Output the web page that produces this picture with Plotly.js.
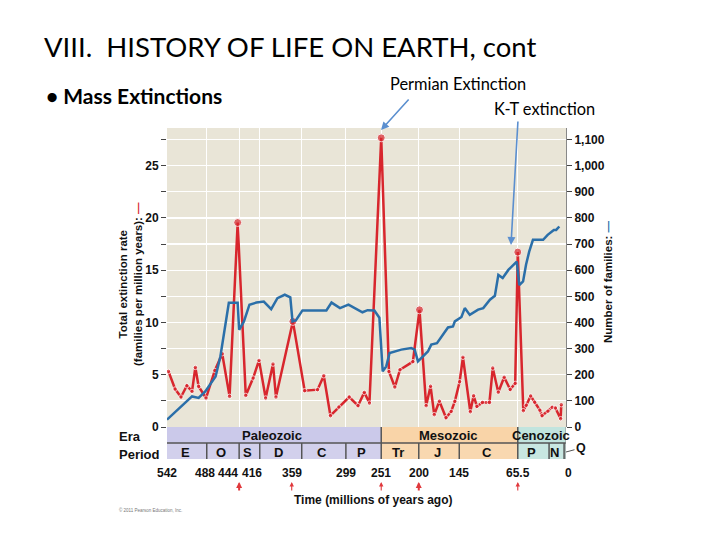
<!DOCTYPE html>
<html><head><meta charset="utf-8">
<script src="https://cdn.plot.ly/plotly-3.0.1.min.js"></script>
<style>html,body{margin:0;padding:0;background:#fff}#chart{width:720px;height:540px}</style>
</head><body><div id="chart"></div>
<script>
// Total extinction rate (families per million years)
const extinctionAge = [540,531,523,515,508,503.5,499,489,477,467,457,446,435,425,417,408,398,394,371,355,337.5,329,320,308.5,294.5,282.5,274,267,251,240.5,232.5,225.5,208,199,190,184,179,172,163,156,151,144.5,140,130,125.5,121,113.5,104,99.5,92,84,75.8,69,65.5,58,54,48,42.5,35.5,32.5,24.5,18.8,14.4,7.3,6.4];
const extinctionRate = [5.32,3.63,2.87,3.95,3.40,5.70,3.88,2.77,5.41,7.01,2.93,19.56,3.02,4.68,6.37,2.77,6.02,2.87,10.1,3.47,3.57,4.90,1.08,1.91,2.87,2.04,3.31,2.29,27.66,5.3,3.82,5.48,6.25,11.21,2.04,3.90,1.18,2.47,0.89,1.49,2.45,4.33,6.67,1.46,2.99,1.97,2.35,2.35,5.64,3.33,4.76,3.59,4.17,16.73,1.56,2.08,2.97,2.37,1.61,1.08,1.51,1.89,1.82,0.79,2.13];
// Number of families
const familiesAge = [542,508,499,490,476,469.5,458,446,444,437.5,430,420.5,410.5,400.5,392,382,374.5,371.5,367,358,325.5,318.5,307,295.5,276.5,269.5,260.3,253.5,249,244.2,239.6,223.8,210.2,205.6,201.1,196.6,187.6,183,175.3,160.3,153.5,151,142,137.5,130.7,119.4,112.4,103.3,96.6,91.9,86,78.3,66.9,63.4,58.3,54.3,50,44.9,31.1,24.9,16.5,13.3,9.1];
const familiesCount = [28,117,111,136,193,270,475,475,372,404,468,476,480,451,493,506,496,404,408,446,446,476,455,468,439,447,446,418,213,232,283,296,302,296,251,264,289,315,321,381,385,404,421,455,429,449,455,487,502,582,570,601,633,543,557,621,671,716,716,735,754,754,767];

const tickAges = [542,488,444,416,359,299,251,200,145,65.5,0];
const tickLabels = ['542','488','444','416','359','299','251','200','145','65.5','0'];
const leftTicks = [0,2.5,5,7.5,10,12.5,15,17.5,20,22.5,25,27.5];
const leftTickLabels = ['0','','5','','10','','15','','20','','25',''];
const rightTicks = [0,100,200,300,400,500,600,700,800,900,1000,1100];

const eras = ['Paleozoic','Mesozoic','Cenozoic'];
const eraStart = [542,251,65.5];
const eraEnd = [251,65.5,0];
const periods = ['E','O','S','D','C','P','Tr','J','C','P','N'];
const periodStart = [542,488,444,416,359,299,251,200,145,65.5,23];
const periodEnd = [488,444,416,359,299,251,200,145,65.5,23,2.6];
const markedAges = [444,359,251,200,65.5];

// layout geometry (pixels)
const L=167, R=154, T=128, B=113, W=720, H=540;
const PW=W-L-R, PH=H-T-B, bottomPx=H-B;
const py = p => (bottomPx - p)/PH;   // pixel y -> paper y
const px = p => (p - L)/PW;          // pixel x -> paper x
// crowded tick labels are nudged sideways, as in the original figure
const labelShift = {488:-2, 444:-11, 416:-8, 359:-10, 0:2};

const eraColors = ['#cbc9ea','#f9d4a8','#c1e4de'];
const periodColors = ['#d2d0ec','#f9d8b0','#c8e7e1'];
const font = 'Liberation Sans, Arial, sans-serif';
const slideFont = 'Lato, Liberation Sans, sans-serif';
const axFont = {family:font,size:12,weight:'bold',color:'#111'};

const shapes = [];
const ann = [];
const lab = (o) => Object.assign({xanchor:'center',yanchor:'middle',showarrow:false}, o);
eras.forEach((e,i)=>{
  shapes.push({type:'rect',xref:'x',yref:'paper',x0:eraStart[i],x1:eraEnd[i],y0:py(443),y1:0,fillcolor:eraColors[i],line:{width:0},layer:'above'});
  shapes.push({type:'rect',xref:'x',yref:'paper',x0:eraStart[i],x1:eraEnd[i],y0:py(459),y1:py(443),fillcolor:periodColors[i],line:{width:0},layer:'above'});
  ann.push(lab({xref:'x',yref:'paper',x:(eraStart[i]+eraEnd[i])/2 + (i===0?3:(i===1?2:1.5)),y:py(435),text:e,font:{family:font,size:13,weight:'bold',color:'#111'}}));
});
periods.forEach((p,i)=>{
  ann.push(lab({xref:'x',yref:'paper',x:(periodStart[i]+periodEnd[i])/2 + 2.5,y:py(452),text:p,font:{family:font,size:13,weight:'bold',color:'#111'}}));
  if(i>0){
    const eraEdge = eraStart.includes(periodStart[i]);
    shapes.push({type:'line',xref:'x',yref:'paper',x0:periodStart[i],x1:periodStart[i],y0:py(459),y1:eraEdge?0:py(443),line:{color:'#555',width:1.5},layer:'above'});
  }
});
shapes.push({type:'line',xref:'x',yref:'paper',x0:2.6,x1:2.6,y0:py(459),y1:py(443),line:{color:'#555',width:1.5},layer:'above'});
shapes.push({type:'line',xref:'x',yref:'paper',x0:542,x1:0,y0:py(443),y1:py(443),line:{color:'#555',width:1.5},layer:'above'});
shapes.push({type:'line',xref:'x',yref:'paper',x0:0,x1:0,y0:py(459),y1:0,line:{color:'#888',width:1},layer:'above'});

// x tick labels placed on the x scale below the period band
tickAges.forEach((a,i)=>{
  ann.push(lab({xref:'x',yref:'paper',x:a,xshift:labelShift[a]||0,y:py(473),text:tickLabels[i],font:axFont}));
});
// Q label
ann.push({xref:'x',yref:'paper',x:0,y:py(452),ax:15,ay:-4,text:'Q',showarrow:true,arrowhead:0,arrowwidth:1,arrowcolor:'#555',standoff:0,font:{family:font,size:12.5,weight:'bold',color:'#111'}});
ann.push(lab({xref:'paper',yref:'paper',x:px(117),y:py(436),xanchor:'left',text:'Era',font:{family:font,size:13,weight:'bold',color:'#111'}}));
ann.push(lab({xref:'paper',yref:'paper',x:px(117),y:py(454),xanchor:'left',text:'Period',font:{family:font,size:13,weight:'bold',color:'#111'}}));
// red arrows below marked ages
markedAges.forEach(a=>{
  const heavy = (a===444||a===200);
  ann.push({xref:'x',yref:'paper',x:a,xshift:(a===359?-10:0),y:py(482),ax:0,ay:10,text:'',showarrow:true,arrowhead:2,arrowsize:heavy?0.6:0.8,arrowwidth:heavy?2:1.1,arrowcolor:'#e0383c',standoff:0});
});
ann.push(lab({xref:'paper',yref:'paper',x:px(373),y:py(500),text:'Time (millions of years ago)',font:{family:font,size:12,weight:'bold',color:'#111'}}));
ann.push(lab({xref:'paper',yref:'paper',x:px(117),y:py(510),xanchor:'left',text:'© 2011 Pearson Education, Inc.',font:{family:font,size:4.5,color:'#777'}}));
// axis titles
ann.push(lab({xref:'paper',yref:'paper',x:px(130),y:py(284),textangle:-90,text:"Total extinction rate<br>(families per million years): <span style='color:#d8262d'>—</span>",font:{family:font,size:11.5,weight:'bold',color:'#111'}}));
ann.push(lab({xref:'paper',yref:'paper',x:px(608),y:py(282),textangle:-90,text:"Number of families: <span style='color:#2b6fa9'>—</span>",font:{family:font,size:11.5,weight:'bold',color:'#111'}}));
// slide text
ann.push(lab({xref:'paper',yref:'paper',x:px(44),y:py(95),xanchor:'left',text:'• Mass Extinctions',font:{family:slideFont,size:21,weight:'bold',color:'#000'}}));
ann.push(lab({xref:'paper',yref:'paper',x:px(388),y:py(83),xanchor:'left',text:'Permian Extinction',font:{family:slideFont,size:16.4,color:'#000'}}));
ann.push(lab({xref:'paper',yref:'paper',x:px(492),y:py(108),xanchor:'left',text:'K-T extinction',font:{family:slideFont,size:16.4,color:'#000'}}));
ann.push({xref:'paper',yref:'paper',x:px(381),y:py(130),ax:29,ay:-32,text:'',showarrow:true,arrowhead:2,arrowsize:1,arrowwidth:1.6,arrowcolor:'#5b8fcf',standoff:0});
ann.push({xref:'paper',yref:'paper',x:px(511),y:py(245),ax:7,ay:-125,text:'',showarrow:true,arrowhead:2,arrowsize:1,arrowwidth:1.6,arrowcolor:'#5b8fcf',standoff:0});

const traces = [
  {x:familiesAge,y:familiesCount,yaxis:'y2',type:'scatter',mode:'lines',line:{color:'#2b6fa9',width:2.5},hoverinfo:'skip'},
  {x:extinctionAge,y:extinctionRate,type:'scatter',mode:'lines+markers',line:{color:'#d8262d',width:2.5},
   marker:{color:'#d8262d',size:extinctionRate.map(v=>v>9?8:4.5)},hoverinfo:'skip'}
];

const layout = {
  width:W,height:H,margin:{l:L,r:R,t:T,b:B},
  paper_bgcolor:'#ffffff',plot_bgcolor:'#e9e5d7',showlegend:false,
  title:{text:'VIII.  HISTORY OF LIFE ON EARTH, cont',font:{family:slideFont,size:27.5,color:'#000'},xref:'container',yref:'container',x:44/W,xanchor:'left',y:1-47/H,yanchor:'middle'},
  xaxis:{range:[542,0],tickvals:tickAges,showticklabels:false,showgrid:true,gridcolor:'#ffffff',gridwidth:1.2,zeroline:false,showline:false,ticks:''},
  yaxis:{range:[0,28.6],tickvals:leftTicks,ticktext:leftTickLabels,showgrid:true,gridcolor:'#ffffff',gridwidth:1.2,zeroline:false,showline:false,ticks:'outside',ticklen:5,tickcolor:'#444',tickfont:{family:font,size:12,weight:'bold',color:'#111'}},
  yaxis2:{overlaying:'y',side:'right',range:[0,1144],tickvals:rightTicks,tickformat:',',showgrid:false,zeroline:false,showline:true,linecolor:'#888',linewidth:1,ticks:'outside',ticklen:5,tickcolor:'#444',tickfont:{family:font,size:12,weight:'bold',color:'#111'}},
  shapes:shapes,annotations:ann
};
Plotly.newPlot('chart',traces,layout,{displayModeBar:false,staticPlot:true});
</script></body></html>
